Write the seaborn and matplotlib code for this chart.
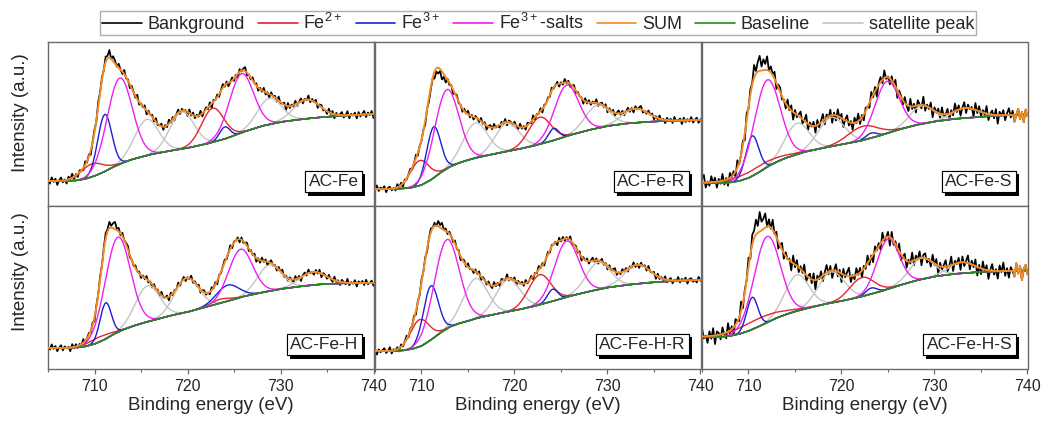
import numpy as np
import matplotlib
matplotlib.use("Agg")
import matplotlib.pyplot as plt
import matplotlib.patheffects as pe
from matplotlib.ticker import MultipleLocator, FixedLocator
from matplotlib.lines import Line2D
import seaborn as sns

# ---------------- data ----------------
SAMPLES = ["AC-Fe", "AC-Fe-R", "AC-Fe-S", "AC-Fe-H", "AC-Fe-H-R", "AC-Fe-H-S"]
LEGEND_LABELS = ["Bankground", "Fe$^{2+}$", "Fe$^{3+}$", "Fe$^{3+}$-salts",
                 "SUM", "Baseline", "satellite peak"]
X_TICKS = [710, 720, 730, 740]
X_LABEL = "Binding energy (eV)"
Y_LABEL = "Intensity (a.u.)"

# Shirley-type baseline read at these energies (eV)
BASELINE_X = [705, 707, 708, 709, 710, 711, 712, 713, 714, 715, 716, 718, 720,
              722, 724, 726, 728, 730, 732, 734, 736, 738, 740]
BASELINE_Y = [
    [26, 26, 26.5, 28, 31, 35, 40, 44, 47.5, 50, 52.5, 56, 59, 63, 68, 75, 81, 85, 87.5, 89.5, 91, 92, 93],
    [18, 18, 18.5, 19.5, 22, 27, 34, 40, 44, 47, 49.5, 53.5, 57, 61, 66, 72, 77, 81, 83.5, 85, 86, 86.5, 87],
    [24, 24, 24.5, 26, 29, 34, 40, 45, 49, 52, 55, 59, 62.5, 66, 71, 77, 82, 85.5, 88, 89.5, 91, 92, 92.5],
    [24, 24, 24.5, 25.5, 28, 32, 37.5, 42, 45.5, 48.5, 51, 56, 60, 65, 70, 75.5, 79.5, 83, 85.5, 87.5, 88.5, 89, 89],
    [21, 21, 21.5, 23, 26, 32, 39, 45, 48.5, 51, 54, 58, 61.5, 65.5, 70.5, 76, 80.5, 84.5, 87, 89, 90.5, 91.5, 92],
    [35, 35, 36, 38, 41, 45, 49.5, 54, 57.5, 60.5, 63, 67.5, 71, 75, 80, 86, 91.5, 95.5, 98, 99.5, 100.5, 101, 101.5],
]

# fitted components: (centre eV, height above baseline, sigma eV)
FE2_PEAKS = [
    [(709.7, 13, 1.2), (722.7, 34, 1.2)],
    [(709.8, 25, 1.0), (722.7, 27, 1.2)],
    [(711.0, 6, 2.5), (722.3, 14, 1.6)],
    [(710.5, 5, 1.2), (723.5, 4, 1.0)],
    [(709.8, 27, 1.0), (722.7, 30, 1.2)],
    [(711.0, 8, 2.5), (722.2, 19, 1.3)],
]
FE3_PEAKS = [
    [(711.1, 57, 0.75), (724.0, 12, 0.55)],
    [(711.3, 51, 0.75), (724.2, 12, 0.55)],
    [(710.4, 40, 0.7), (723.2, 5, 0.6)],
    [(711.2, 36, 0.6), (724.3, 16, 1.2)],
    [(711.0, 54, 0.8), (724.1, 12, 0.55)],
    [(710.4, 32, 0.6), (723.2, 6, 0.6)],
]
SALT_PEAKS = [
    [(712.7, 86, 1.35), (725.8, 59, 1.3)],
    [(712.7, 79, 1.3), (725.6, 51, 1.3)],
    [(712.0, 87, 1.4), (724.9, 52, 1.3)],
    [(712.5, 95, 1.35), (725.7, 48, 1.3)],
    [(712.7, 89, 1.35), (725.6, 56, 1.3)],
    [(712.0, 86, 1.4), (725.0, 50, 1.2)],
]
SAT_PEAKS = [
    [(715.6, 36, 1.3), (719.4, 37, 1.3), (728.8, 26, 1.3), (732.8, 19, 1.4)],
    [(715.8, 35, 1.3), (719.2, 28, 1.3), (728.9, 23, 1.3), (733.0, 14, 1.4)],
    [(715.2, 31, 1.3), (718.9, 29, 1.4), (728.6, 18, 1.3), (733.3, 10, 1.4)],
    [(715.7, 36, 1.3), (719.9, 34, 1.3), (728.8, 26, 1.3), (733.5, 13, 1.4)],
    [(715.8, 40, 1.3), (719.3, 32, 1.3), (729.0, 27, 1.3), (733.2, 19, 1.4)],
    [(715.2, 36, 1.3), (718.9, 31, 1.4), (728.6, 21, 1.3), (732.9, 11, 1.4)],
]
# where the measured curve sits above / below the fitted sum
DATA_EXCESS = [(711.6, 4, 0.6), (711.8, -5, 0.8), (711.3, 10, 0.7),
               (711.9, 5, 0.6), (711.8, 3, 0.6), (711.2, 12, 0.7)]
NOISE_AMP = [4.5, 4.0, 8.5, 4.0, 4.0, 9.5]
NOISE_SHIFT = [0, 37, 71, 113, 23, 149]
SUM_TAIL_FROM = [None, None, 738.6, None, None, 738.6]
# hand-read wiggle of the measured spectra (relative units, 0.2 eV steps)
NOISE = [0.3, -0.6, 0.8, -0.2, 0.5, -0.9, 0.1, 0.7, -0.4, 0.2, -0.8, 0.6, -0.1, 0.9, -0.5, 0.3, -0.7, 0.4, 0.0, -0.6,
         0.8, -0.3, 0.5, -1.0, 0.2, 0.6, -0.4, 0.9, -0.2, 0.1, -0.7, 0.5, -0.3, 0.8, -0.9, 0.4, 0.2, -0.5, 0.7, -0.1,
         -0.6, 0.9, -0.3, 0.3, -0.8, 0.6, 0.1, -0.4, 1.0, -0.6, 0.2, -0.2, 0.7, -0.9, 0.4, -0.1, 0.5, -0.5, 0.8, -0.3,
         0.0, 0.6, -0.7, 0.3, -0.4, 0.9, -0.2, 0.5, -0.8, 0.1, 0.7, -0.6, 0.4, -0.1, 0.2, -0.9, 0.8, -0.3, 0.6, -0.5,
         0.3, -0.2, 0.9, -0.7, 0.1, 0.5, -0.4, 0.7, -1.0, 0.4, -0.1, 0.6, -0.6, 0.2, 0.8, -0.3, 0.5, -0.8, 0.0, 0.7,
         -0.5, 0.3, -0.9, 0.6, -0.2, 0.4, 0.9, -0.6, 0.1, -0.4, 0.7, -0.1, 0.5, -0.7, 0.3, -0.3, 0.8, -0.5, 0.2, -0.8,
         0.6, -0.1, 0.4, -0.6, 0.9, -0.2, 0.0, 0.5, -0.9, 0.7, -0.4, 0.3, -0.3, 0.8, -0.6, 0.1, 0.6, -0.7, 0.2, -0.2,
         0.9, -0.5, 0.4, -0.1, 0.7, -0.8, 0.3, 0.5, -0.4, 0.1, -0.6, 0.8, -0.2, 0.6, -0.9, 0.4, -0.3, 0.2, 0.7, -0.5,
         0.0, 0.9, -0.7, 0.3, -0.1, 0.5, -0.8, 0.6, -0.4, 0.2, 0.8, -0.6, 0.4, -0.2, 0.7, -0.9]

COLORS = {"data": "#000000", "fe2": "#e3262b", "fe3": "#1c1fd0", "salt": "#f01ef0",
          "sum": "#f28a26", "base": "#228b1e", "sat": "#c4c4c4"}

# ---------------- style ----------------
sns.set_theme(style="white")
plt.rcParams["font.family"] = ["Liberation Sans", "DejaVu Sans"]
plt.rcParams["mathtext.fontset"] = "custom"
plt.rcParams["mathtext.rm"] = "Liberation Sans"
plt.rcParams["mathtext.it"] = "Liberation Sans:italic"
plt.rcParams["mathtext.bf"] = "Liberation Sans:bold"

W, H = 1048, 428
fig = plt.figure(figsize=(W / 100, H / 100), dpi=100)

col_left = [48, 375, 702]
col_w = 325.5
row_top = [42, 206]
row_h = [164, 163]
ylims = [(1, 165), (3, 166)]

x_fine = np.linspace(705, 740, 701)
x_data = np.linspace(705, 740, len(NOISE))
noise_arr = np.array(NOISE)


def gauss(x, peaks):
    out = np.zeros_like(x)
    for c, h, s in peaks:
        out += h * np.exp(-(x - c) ** 2 / (2 * s * s))
    return out


def line(ax, x, y, color, lw, z, clip=True):
    sns.lineplot(x=x, y=y, ax=ax, color=color, linewidth=lw, estimator=None,
                 sort=False, legend=False, zorder=z)
    ax.lines[-1].set_clip_on(clip)


for i, name in enumerate(SAMPLES):
    r, c = divmod(i, 3)
    ax = fig.add_axes([col_left[c] / W, 1 - (row_top[r] + row_h[r]) / H,
                       col_w / W, row_h[r] / H])
    base_f = np.interp(x_fine, BASELINE_X, BASELINE_Y[i])
    base_d = np.interp(x_data, BASELINE_X, BASELINE_Y[i])
    comps = [FE2_PEAKS[i], FE3_PEAKS[i], SALT_PEAKS[i], SAT_PEAKS[i]]
    sum_f = base_f + sum(gauss(x_fine, p) for p in comps)
    sum_d = base_d + sum(gauss(x_data, p) for p in comps)
    data = sum_d + gauss(x_data, [DATA_EXCESS[i]]) + NOISE_AMP[i] * np.roll(noise_arr, NOISE_SHIFT[i])

    line(ax, x_data, data, COLORS["data"], 1.25, 2)
    for p in SAT_PEAKS[i]:
        line(ax, x_fine, base_f + gauss(x_fine, [p]), COLORS["sat"], 1.0, 3)
    for p in FE2_PEAKS[i]:
        line(ax, x_fine, base_f + gauss(x_fine, [p]), COLORS["fe2"], 1.0, 4)
    for p in FE3_PEAKS[i]:
        line(ax, x_fine, base_f + gauss(x_fine, [p]), COLORS["fe3"], 1.0, 5)
    for p in SALT_PEAKS[i]:
        line(ax, x_fine, base_f + gauss(x_fine, [p]), COLORS["salt"], 1.0, 6)
    line(ax, x_fine, base_f, COLORS["base"], 1.2, 7)
    if SUM_TAIL_FROM[i] is None:
        line(ax, x_fine, sum_f, COLORS["sum"], 1.4, 8)
    else:
        t = SUM_TAIL_FROM[i]
        xs = np.concatenate([x_fine[x_fine < t], x_data[x_data >= t]])
        ys = np.concatenate([sum_f[x_fine < t], data[x_data >= t]])
        line(ax, xs, ys, COLORS["sum"], 1.4, 8)

    ax.set_xlim(705, 740)
    ax.set_ylim(*ylims[r])
    ax.set_yticks([])
    for sp in ax.spines.values():
        sp.set_color("#6a6a6a")
        sp.set_linewidth(1.0)
    if r == 1:
        ax.xaxis.set_major_locator(FixedLocator(X_TICKS))
        ax.xaxis.set_minor_locator(MultipleLocator(5))
        ax.tick_params(axis="x", which="major", direction="out", length=3.5, width=0.9,
                       color="#6a6a6a", labelsize=11.5, pad=4, bottom=True)
        ax.tick_params(axis="x", which="minor", direction="out", length=2, width=0.8,
                       color="#6a6a6a", bottom=True)
        ax.set_xlabel(X_LABEL, fontsize=13.5)
        ax.xaxis.set_label_coords(0.5, -0.225)
        ax.xaxis.label.set_verticalalignment("center")
    else:
        ax.set_xticks([])
    ax.set_ylabel("")

    txt = ax.text(1 - 15 / col_w, 17 / row_h[r], name, transform=ax.transAxes,
                  ha="right", va="bottom", fontsize=12.5, zorder=10,
                  bbox=dict(boxstyle="square,pad=0.2", fc="white", ec="black", lw=0.8))
    txt.get_bbox_patch().set_path_effects([
        pe.withSimplePatchShadow(offset=(2.2, -2.2), shadow_rgbFace="black", alpha=1.0),
        pe.Normal()])

# row labels
for yc in (113, 272):
    fig.text(21 / W, 1 - yc / H, Y_LABEL, rotation=90, ha="center", va="center", fontsize=13.5)

# legend
keys = ["data", "fe2", "fe3", "salt", "sum", "base", "sat"]
handles = [Line2D([], [], color=COLORS[k], lw=1.2) for k in keys]
leg = fig.legend(handles, LEGEND_LABELS, loc="center", bbox_to_anchor=(538 / W, 1 - 23 / H),
                 ncol=7, fontsize=13, frameon=True, fancybox=False, edgecolor="#9a9a9a",
                 handlelength=2.2, handletextpad=0.3, columnspacing=0.75, borderpad=0.12)
leg.get_frame().set_linewidth(1.0)

fig.savefig("out.png", dpi=100)
